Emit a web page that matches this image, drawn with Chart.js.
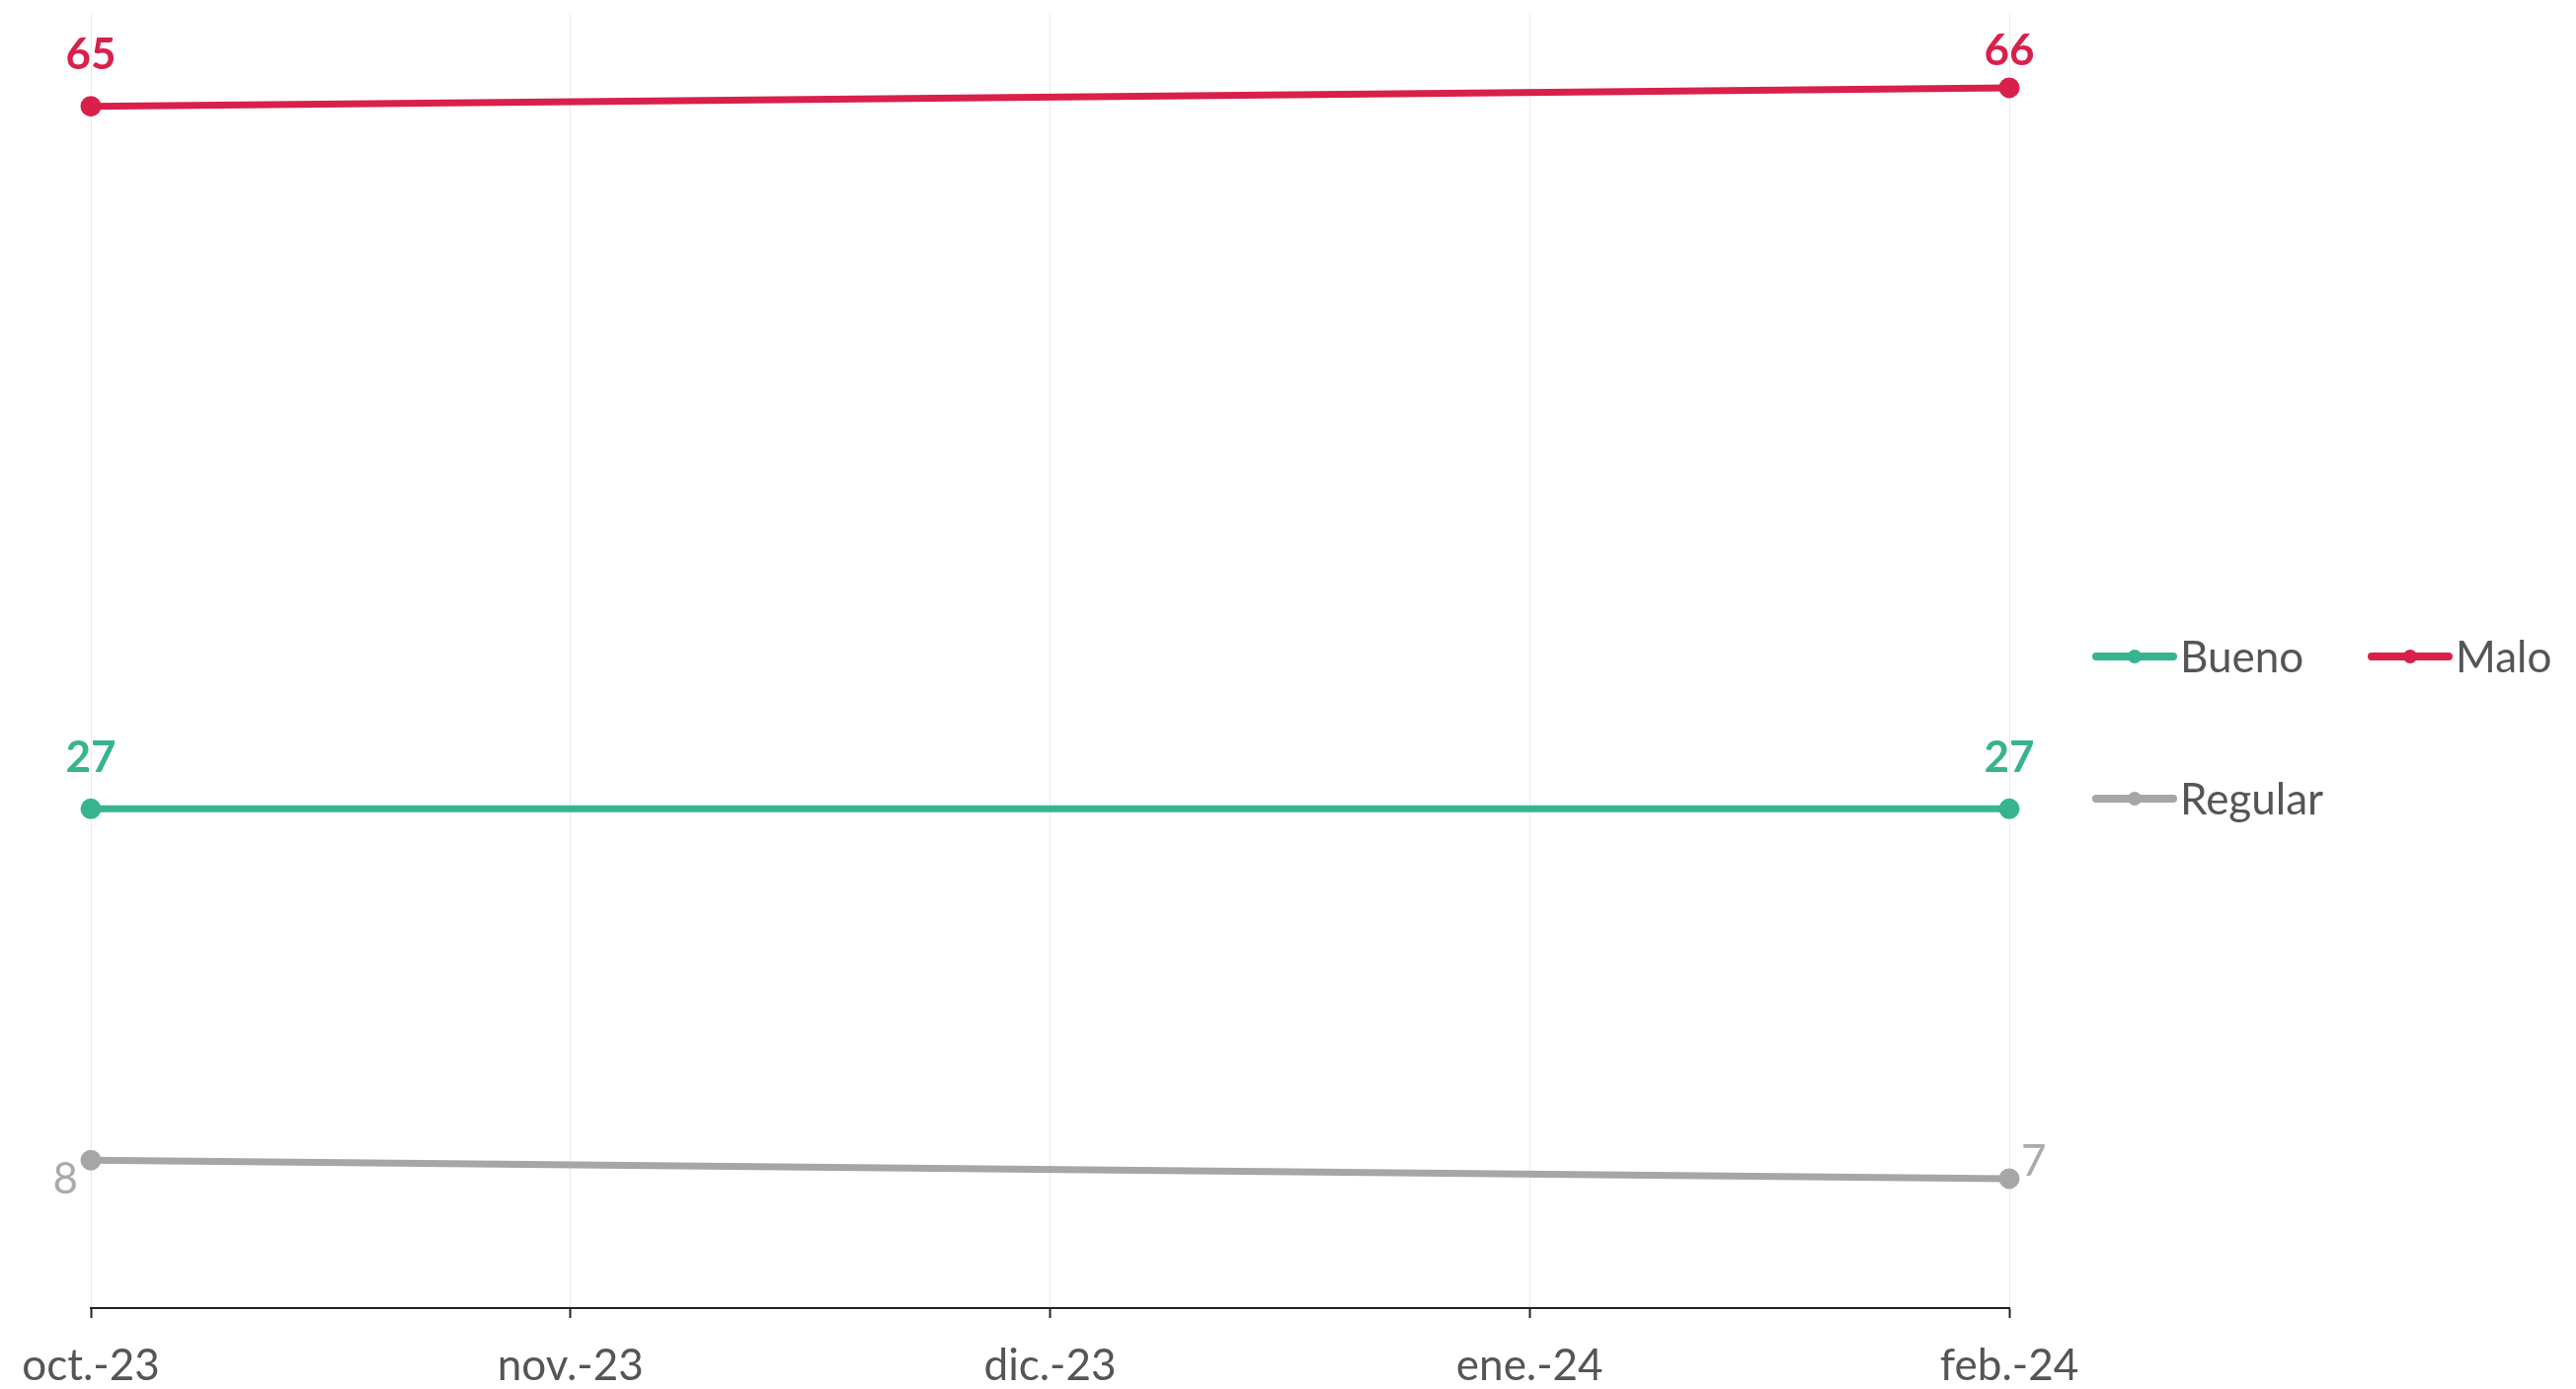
<!DOCTYPE html>
<html>
<head>
<meta charset="utf-8">
<script src="https://cdn.jsdelivr.net/npm/chart.js@4.4.1/dist/chart.umd.min.js"></script>
<style>
  html, body { margin: 0; padding: 0; background: #fff; }
  #wrap { width: 2609px; height: 1407px; position: relative; }
</style>
</head>
<body>
<div id="wrap"><canvas id="lineChart"></canvas></div>
<script>
var months = ['oct.-23', 'nov.-23', 'dic.-23', 'ene.-24', 'feb.-24'];
var bueno = [27, null, null, null, 27];
var malo = [65, null, null, null, 66];
var regular = [8, null, null, null, 7];

var seriesNames = ['Bueno', 'Malo', 'Regular'];
var seriesColors = ['#37b48f', '#d8204b', '#a6a6a6'];

// value labels drawn next to each point
var valueLabels = {
  id: 'valueLabels',
  afterDatasetsDraw: function (chart) {
    var ctx = chart.ctx;
    ctx.save();
    ctx.textBaseline = 'middle';
    chart.data.datasets.forEach(function (ds, i) {
      var meta = chart.getDatasetMeta(i);
      meta.data.forEach(function (pt, j) {
        var v = ds.data[j];
        if (v === null || v === undefined) return;
        if (ds.label === 'Regular') {
          ctx.font = '44px Lato';
          ctx.fillStyle = '#aaaaaa';
          if (j === 0) {
            ctx.textAlign = 'right';
            ctx.fillText(v, pt.x - 13, pt.y + 20);
          } else {
            ctx.textAlign = 'left';
            ctx.fillText(v, pt.x + 12, pt.y - 17);
          }
        } else {
          ctx.font = 'bold 44px Lato';
          ctx.fillStyle = ds.borderColor;
          ctx.textAlign = 'center';
          ctx.fillText(v, pt.x, Math.max(pt.y - 52, 52));
        }
      });
    });
    ctx.restore();
  }
};

// legend in two columns on the right
var sideLegend = {
  id: 'sideLegend',
  afterDraw: function (chart) {
    var ctx = chart.ctx;
    var spots = [[2123, 665], [2402, 665], [2123, 809]];
    ctx.save();
    ctx.font = '44px Lato';
    ctx.textBaseline = 'middle';
    ctx.textAlign = 'left';
    chart.data.datasets.forEach(function (ds, i) {
      var x = spots[i][0], y = spots[i][1];
      ctx.strokeStyle = ds.borderColor;
      ctx.lineWidth = 8;
      ctx.lineCap = 'round';
      ctx.beginPath();
      ctx.moveTo(x, y);
      ctx.lineTo(x + 78, y);
      ctx.stroke();
      ctx.fillStyle = ds.borderColor;
      ctx.beginPath();
      ctx.arc(x + 39, y, 7, 0, Math.PI * 2);
      ctx.fill();
      ctx.fillStyle = '#555555';
      ctx.fillText(ds.label, x + 85, y + 2);
    });
    ctx.restore();
  }
};

function makeSet(name, values, color) {
  return {
    label: name,
    data: values,
    borderColor: color,
    backgroundColor: color,
    borderWidth: 7,
    pointRadius: 7,
    pointHoverRadius: 7,
    spanGaps: true,
    tension: 0
  };
}

var ctx = document.getElementById('lineChart');
var lineChart = new Chart(ctx, {
  type: 'line',
  data: {
    labels: months,
    datasets: [
      makeSet(seriesNames[0], bueno, seriesColors[0]),
      makeSet(seriesNames[1], malo, seriesColors[1]),
      makeSet(seriesNames[2], regular, seriesColors[2])
    ]
  },
  plugins: [valueLabels, sideLegend],
  options: {
    responsive: true,
    maintainAspectRatio: false,
    animation: false,
    layout: { padding: { left: 92, right: 574, top: 13, bottom: 0 } },
    plugins: {
      legend: { display: false },
      tooltip: { enabled: false }
    },
    scales: {
      y: { display: false, min: 0, max: 70 },
      x: {
        offset: false,
        afterFit: function (scale) { scale.height = 82; },
        border: { display: true, color: '#222', width: 2 },
        grid: { color: '#ececec', lineWidth: 1, tickColor: '#222', tickLength: 10, tickWidth: 2 },
        ticks: {
          color: '#555555',
          font: { family: 'Lato', size: 44 },
          padding: 22,
          maxRotation: 0,
          autoSkip: false
        }
      }
    }
  }
});
</script>
</body>
</html>
